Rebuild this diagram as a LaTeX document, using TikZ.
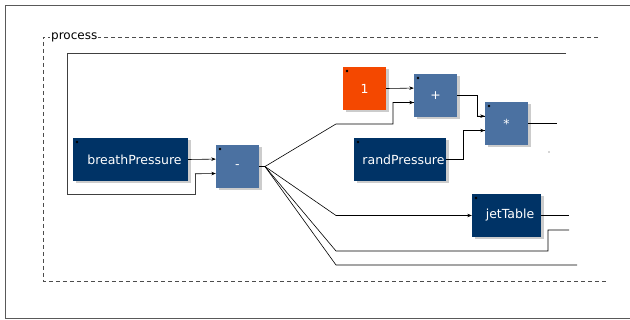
\documentclass[tikz,border=0pt]{standalone}
\usepackage{fontspec}
\setmainfont{DejaVu Sans}
\usetikzlibrary{calc}
\usetikzlibrary{arrows.meta, shadows}
\usetikzlibrary{positioning}

\begin{document}
\begin{tikzpicture}[x=1pt, y=-1pt,
        block/.style={draw=none, minimum height=43pt, inner sep=0pt, text=white,
            font=\fontsize{12.5}{14}\selectfont,
            drop shadow={shadow xshift=2.5pt, shadow yshift=-2.5pt, fill=black!20, opacity=1},
            path picture={\fill[black] ($(path picture bounding box.north west)+(4pt,-4pt)$) circle (1.3pt);}},
        uiblock/.style={block, fill=uiblue},
        opblock/.style={block, fill=opblue, minimum width=43pt},
        numblock/.style={block, fill=numorange, minimum width=43pt},
        wire/.style={line width=0.6pt, black},
        arrowwire/.style={wire, -{Stealth[length=4.5pt, width=3.5pt]}},
        loopwire/.style={line width=0.9pt, black!75}]
        \definecolor{uiblue}{HTML}{003366}
        \definecolor{opblue}{HTML}{4B71A1}
        \definecolor{numorange}{HTML}{F44800}
        \clip (0,0) rectangle (630,320); % page size

        % Frames
        \draw[black!65, line width=0.9pt] (5.5,5.5) rectangle (640,318); % outer frame
        \draw[dash pattern=on 4pt off 3pt, black!70, line width=0.7pt] (598,37) -- (43,37) -- (43,281) -- (606,281); % process group
        \node[fill=white, inner sep=1pt, anchor=west, font=\fontsize{12}{14}\selectfont] (proc) at (50,37) {process};

        % Blocks
        \node[uiblock, minimum width=115pt] (bp) at (130.5,159.5) {\hspace*{8pt}breathPressure};
        \node[opblock] (minus) at (237.5,166.5) {-};
        \node[numblock] (one) at (364.5,88.5) {1};
        \node[opblock] (plus) at (435.5,95.5) {+};
        \node[opblock] (times) at (506.5,123.5) {*};
        \node[uiblock, minimum width=92pt] (rp) at (400,159.5) {\hspace*{7pt}randPressure};
        \node[uiblock, minimum width=69pt] (jt) at (506.5,215.5) {\hspace*{7pt}jetTable};

        % Input and output points
        \foreach \b in {minus, plus, times} {
            \coordinate (\b-in1) at ([yshift=-14.3pt]\b.north west); % first input
            \coordinate (\b-in2) at ([yshift=-28.7pt]\b.north west); % second input
        }
        \coordinate (split) at (265,166.5);
        \coordinate (fbtop) at (566,53);
        \coordinate (out1) at (557,123.5);
        \coordinate (out2) at (569,215.5);
        \coordinate (out3) at (569,230);
        \coordinate (out4) at (577,265);

        % Wires
        \draw[loopwire] (fbtop) -- (67,53) -- (67,194) -- (195,194) -- (195,173.8); % feedback
        \draw[arrowwire] (195,173.8) -- (minus-in2);
        \draw[arrowwire] (bp.east) -- (minus-in1);
        \draw[wire] (minus.east) -- (split);
        \draw[wire] (split) -- (336,124) -- (393,124) |- (plus-in2);
        \draw[arrowwire] (393,102.7) -- (plus-in2);
        \draw[arrowwire] (split) -- (336,215.5) -- (jt.west);
        \draw[wire] (split) -- (336,251) -- (548,251) |- (out3);
        \draw[wire] (split) -- (336,265) -- (out4);
        \draw[arrowwire] (one.east) -- (plus-in1);
        \draw[wire] (plus.east) -- (477,95.5) |- (times-in1);
        \draw[arrowwire] (477,116.3) -- (times-in1);
        \draw[wire] (rp.east) -- (463,159.5) |- (times-in2);
        \draw[arrowwire] (463,130.7) -- (times-in2);
        \draw[wire] (times.east) -- (out1);
        \draw[wire] (jt.east) -- (out2);
        \fill[black!70] (549,152) circle (0.6pt); % stray dot
    \end{tikzpicture}
\end{document}
